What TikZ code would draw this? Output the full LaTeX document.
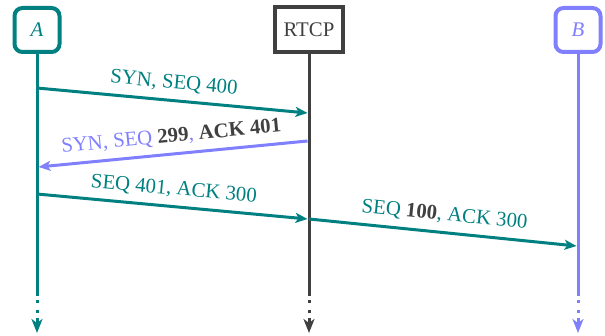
\documentclass[tikz,border=0pt]{standalone}
\usepackage{fontspec}
\setmainfont{Liberation Serif}
\usetikzlibrary{arrows.meta}
\definecolor{seqteal}{RGB}{0,128,128}
\definecolor{seqlilac}{RGB}{128,128,255}
\definecolor{seqgray}{RGB}{64,64,64}
\begin{document}
\begin{tikzpicture}[x=0.5pt,y=-0.5pt,
  font=\fontsize{10.4}{12}\selectfont,
  actor/.style={draw=#1,line width=2pt,rounded corners=4pt,fill=white,
    minimum width=22.5pt,minimum height=22pt,inner sep=0pt,text=#1},
  server/.style={draw=#1,line width=2pt,fill=white,
    minimum width=34pt,minimum height=22.5pt,inner sep=0pt,text=#1},
  life/.style={draw=#1,line width=1.5pt},
  lifedots/.style={draw=#1,line width=1.5pt,dash pattern=on 1.25pt off 3.75pt},
  lifetip/.style={draw=#1,line width=1.5pt,-{Stealth[length=7pt,width=5.5pt,inset=2pt]}},
  msg/.style={draw=#1,line width=1.5pt,-{Stealth[length=6pt,width=5pt,inset=1.5pt]}},
  lbl/.style={sloped,above,inner sep=3.5pt,text=#1}]
\useasboundingbox (0,0) rectangle (605,336);

% participants
\node[actor=seqteal]  (A) at (37,30)  {\textit{A}};
\node[server=seqgray] (R) at (309,30) {RTCP};
\node[actor=seqlilac] (B) at (578,30) {\textit{B}};

% lifelines: solid part, dots, closing arrow
\foreach \n/\x/\c in {A/37/seqteal,R/309/seqgray,B/578/seqlilac}{
  \coordinate (\n s) at (\x,296);
  \coordinate (\n d1) at (\x,300.5);
  \coordinate (\n d2) at (\x,315);
  \coordinate (\n t1) at (\x,318);
  \coordinate (\n t2) at (\x,333);
  \draw[life=\c] (\n) -- (\n s);
  \draw[lifedots=\c] (\n d1) -- (\n d2);
  \draw[lifetip=\c] (\n t1) -- (\n t2);
}

% message end points on the lifelines
\coordinate (m1a) at (37,88);   \coordinate (m1b) at (307.5,113);
\coordinate (m2a) at (307.5,141); \coordinate (m2b) at (38.5,167);
\coordinate (m3a) at (37,194);  \coordinate (m3b) at (307.5,219);
\coordinate (m4a) at (309,219); \coordinate (m4b) at (576.5,246);

% messages
\draw[msg=seqteal] (m1a) -- node[lbl=seqteal] {SYN, SEQ 400} (m1b);
\draw[msg=seqlilac] (m2a) -- node[lbl=seqlilac]
  {SYN, SEQ \textcolor{seqgray}{\textbf{299}}, \textcolor{seqgray}{\textbf{ACK 401}}} (m2b);
\draw[msg=seqteal] (m3a) -- node[lbl=seqteal] {SEQ 401, ACK 300} (m3b);
\draw[msg=seqteal] (m4a) -- node[lbl=seqteal]
  {SEQ \textcolor{seqgray}{\textbf{100}}, ACK 300} (m4b);
\end{tikzpicture}
\end{document}
